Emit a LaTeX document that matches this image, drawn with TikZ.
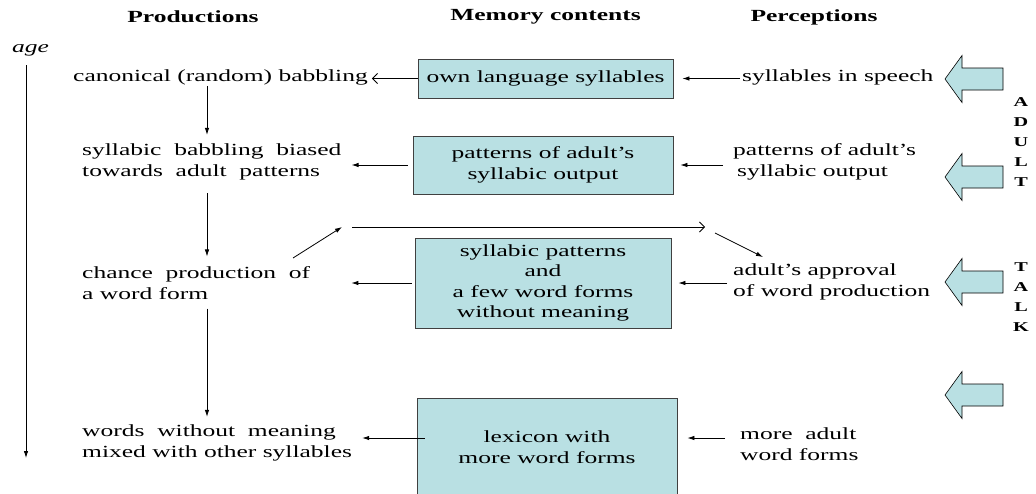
\documentclass[tikz,border=0pt]{standalone}
\usepackage{fontspec}
\setmainfont{Liberation Serif}[FakeStretch=1.5]
\usetikzlibrary{arrows.meta,positioning}
\definecolor{boksblaa}{RGB}{185,224,227}
\tikzset{
    %Define standard arrow tip
    >={Latex[length=7pt,width=4.5pt]},
    %Define style for boxes
    boks/.style={
           rectangle,
           fill=boksblaa,
           draw=black!75,
           line width=0.8pt,
           inner sep=0pt,
           align=center},
    % Define style for free text
    tekst/.style={
           inner sep=0pt,
           align=left},
    % Define style for headings
    kopp/.style={
           inner sep=0pt,
           font=\fontsize{17}{20.5}\selectfont\bfseries},
    % Define style for the letters at the right
    bokstav/.style={
           inner sep=0pt,
           anchor=north,
           align=center,
           font=\fontsize{13.5}{20}\selectfont\bfseries},
    % Define arrow styles
    pil/.style={
           ->,
           line width=0.8pt},
    apil/.style={
           -{Straight Barb[length=5pt,width=10pt]},
           line width=0.8pt},
    % big arrows at the right
    storpil/.style={
           fill=boksblaa,
           draw=black,
           line width=0.6pt}
}
\begin{document}
\begin{tikzpicture}[x=1pt, y=-1pt, every node/.style={font=\fontsize{17}{20.5}\selectfont}]
 \useasboundingbox (0,0) rectangle (1036,493);
 %memory boxes
 \node[boks, minimum width=255pt, minimum height=39pt] (own) at (545.5,78.5) {own language syllables};
 \node[boks, minimum width=260pt, minimum height=58pt] (pat) at (543,165) {patterns of adult's\\syllabic output};
 \node[boks, minimum width=256pt, minimum height=90pt] (sylpat) at (543,283) {syllabic patterns\\and\\a few word forms\\without meaning};
 \node[boks, minimum width=260pt, minimum height=98pt] (lex) at (547,447) {lexicon with\\more word forms};
 %headings
 \node[kopp] (prod) at (193,17) {Productions};
 \node[kopp, above=34pt of own] (mem) {Memory contents};
 \node[kopp] (perc) at (814,17) {Perceptions};
 %productions
 \node[tekst, anchor=west] (kan) at (73,77) {canonical (random) babbling};
 \node[tekst, anchor=west] (syl) at (82,162) {syllabic\ \ babbling\ \ biased\\towards\ \ adult\ \ patterns};
 \node[tekst, anchor=west] (chance) at (82,283) {chance\ \ production\ \ of\\a word form};
 \node[tekst, anchor=west] (ord) at (82,443) {words\ \ without\ \ meaning\\mixed with other syllables};
 %perceptions
 \node[tekst, anchor=west] (tale) at (742,77) {syllables in speech};
 \node[tekst, anchor=west] (moenster) at (733,162) {patterns of adult's\\\hspace{4pt}syllabic output};
 \node[tekst, anchor=west] (godkj) at (733,282) {adult's approval\\of word production};
 \node[tekst, anchor=west] (flere) at (740,444) {more\ \ adult\\word forms};
 % age axis and the letters at the right
 \node[tekst, anchor=west, font=\fontsize{17}{20.5}\selectfont\itshape] (alder) at (12,50) {age};
 \node[bokstav] (voksen) at (1021,97) {A\\D\\U\\L\\T};
 \node[bokstav] (snakk) at (1021,262) {T\\A\\L\\K};
 % free ends
 \coordinate (aldernede) at (26,458);
 \coordinate (pilx) at (207,0);
 \coordinate (v1) at (293,258);
 \coordinate (v2) at (342,227);
 \coordinate (h1) at (352,227);
 \coordinate (h2) at (705,227);
 \coordinate (r1) at (715,233);
 \coordinate (r2) at (763,257);
 %arrows
 \draw[pil, shorten <=9pt] (alder.south -| aldernede) -- (aldernede);
 \draw[pil, shorten <=1pt, shorten >=9pt] (kan.south -| pilx) -- (syl.north -| pilx);
 \draw[pil, shorten <=13pt, shorten >=10pt] (syl.south -| pilx) -- (chance.north -| pilx);
 \draw[pil, shorten <=9pt, shorten >=8pt] (chance.south -| pilx) -- (ord.north -| pilx);
 \draw[apil, shorten >=4pt] (own.west) -- (own.west -| kan.east);
 \draw[pil, shorten <=5pt, shorten >=10pt] (pat.west) -- (pat.west -| syl.east);
 \draw[pil, shorten <=3pt, shorten >=41pt] (sylpat.west) -- (sylpat.west -| chance.east);
 \draw[pil, shorten <=-8pt, shorten >=10pt] ([yshift=9pt]lex.west) -- ([yshift=9pt]lex.west -| ord.east);
 \draw[pil, shorten <=2pt, shorten >=9pt] (own.east -| tale.west) -- (own.east);
 \draw[pil, shorten <=10pt, shorten >=7pt] (pat.east -| moenster.west) -- (pat.east);
 \draw[pil, shorten <=6pt, shorten >=7pt] (sylpat.east -| godkj.west) -- (sylpat.east);
 \draw[pil, shorten <=15pt, shorten >=10pt] ([yshift=9pt]lex.east -| flere.west) -- ([yshift=9pt]lex.east);
 \draw[pil] (v1) -- (v2);
 \draw[apil] (h1) -- (h2);
 \draw[pil] (r1) -- (r2);
 % big arrows
 \draw[storpil] (945,79) -- ++(17,-23.5) -- ++(0,12.5) -- ++(41,0) -- ++(0,22) -- ++(-41,0) -- ++(0,12.5) -- cycle;
 \draw[storpil] (945,177) -- ++(17,-23.5) -- ++(0,12.5) -- ++(41,0) -- ++(0,22) -- ++(-41,0) -- ++(0,12.5) -- cycle;
 \draw[storpil] (945,282) -- ++(17,-23.5) -- ++(0,12.5) -- ++(41,0) -- ++(0,22) -- ++(-41,0) -- ++(0,12.5) -- cycle;
 \draw[storpil] (945,395) -- ++(17,-23.5) -- ++(0,12.5) -- ++(41,0) -- ++(0,22) -- ++(-41,0) -- ++(0,12.5) -- cycle;
\end{tikzpicture}
\end{document}
